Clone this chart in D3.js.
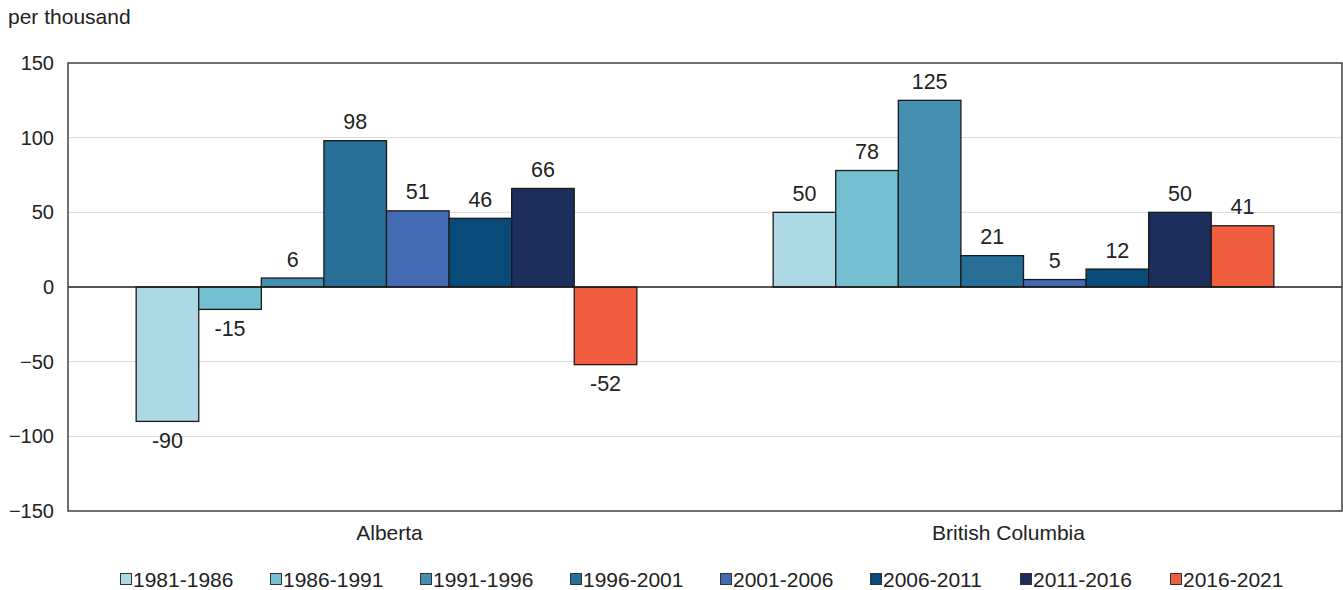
<!DOCTYPE html>
<html>
<head>
<meta charset="utf-8">
<script src="https://cdn.jsdelivr.net/npm/d3@7"></script>
<style>
  html, body { margin: 0; padding: 0; background: #fff; }
  svg { display: block; font-family: "Liberation Sans", Arial, sans-serif; }
</style>
</head>
<body>
<svg id="chart" width="1343" height="590"></svg>
<script>
// Net migration rate per thousand, by province and five-year period
const provinces = ["Alberta", "British Columbia"];
const periods = ["1981-1986", "1986-1991", "1991-1996", "1996-2001",
                 "2001-2006", "2006-2011", "2011-2016", "2016-2021"];
const albertaValues = [-90, -15, 6, 98, 51, 46, 66, -52];
const bcValues = [50, 78, 125, 21, 5, 12, 50, 41];
const periodColors = ["#add8e6", "#74c0d0", "#4590b0", "#276f96",
                      "#426bb4", "#084a7a", "#1c2f5c", "#f15e3f"];
const yTicks = [-150, -100, -50, 0, 50, 100, 150];

const seriesByProvince = [albertaValues, bcValues];

const svg = d3.select("#chart");
const margin = { left: 68, right: 1, top: 63, bottom: 79 };
const W = 1343, H = 590;
const plotW = W - margin.left - margin.right;
const plotH = H - margin.top - margin.bottom;

const x0 = d3.scaleBand().domain(provinces).range([0, plotW]).paddingInner(0.214).paddingOuter(0.107);
const x1 = d3.scaleBand().domain(periods).range([0, x0.bandwidth()]).padding(0);
const y = d3.scaleLinear().domain([-150, 150]).range([plotH, 0]);
const color = d3.scaleOrdinal().domain(periods).range(periodColors);

const g = svg.append("g").attr("transform", `translate(${margin.left},${margin.top})`);

// gridlines
g.append("g")
  .selectAll("line")
  .data(yTicks.filter(t => t !== 0 && Math.abs(t) !== 150))
  .join("line")
  .attr("x1", 0).attr("x2", plotW)
  .attr("y1", d => y(d)).attr("y2", d => y(d))
  .attr("stroke", "#d9d9d9").attr("stroke-width", 1);

// y axis labels
const yAxis = d3.axisLeft(y).tickValues(yTicks).tickSize(0).tickPadding(14);
g.append("g").call(yAxis)
  .call(s => s.select(".domain").remove())
  .call(s => s.selectAll("text")
    .attr("font-size", 20).attr("fill", "#222")
    .attr("font-family", "Liberation Sans, Arial, sans-serif"));

// bars
const groups = g.append("g").selectAll("g")
  .data(provinces.map((p, i) => ({ p, vals: seriesByProvince[i] })))
  .join("g")
  .attr("transform", d => `translate(${x0(d.p)},0)`);

groups.selectAll("rect")
  .data(d => d.vals.map((v, j) => ({ period: periods[j], v })))
  .join("rect")
  .attr("x", d => x1(d.period))
  .attr("width", x1.bandwidth())
  .attr("y", d => y(Math.max(0, d.v)))
  .attr("height", d => Math.abs(y(d.v) - y(0)))
  .attr("fill", d => color(d.period))
  .attr("stroke", "#1a1a1a").attr("stroke-width", 1.3);

groups.selectAll("text")
  .data(d => d.vals.map((v, j) => ({ period: periods[j], v })))
  .join("text")
  .attr("x", d => x1(d.period) + x1.bandwidth() / 2)
  .attr("y", d => d.v >= 0 ? y(d.v) - 11.5 : y(d.v) + 26.5)
  .attr("text-anchor", "middle")
  .attr("font-size", 21.5).attr("fill", "#222")
  .text(d => d.v);

// zero line
g.append("line")
  .attr("x1", 0).attr("x2", plotW)
  .attr("y1", y(0)).attr("y2", y(0))
  .attr("stroke", "#1a1a1a").attr("stroke-width", 1.3);

// frame
g.append("rect")
  .attr("x", 0).attr("y", 0).attr("width", plotW).attr("height", plotH)
  .attr("fill", "none").attr("stroke", "#404040").attr("stroke-width", 1.5);

// category labels (slightly nudged toward the chart centre)
const labelNudge = [3, -15];
g.append("g").selectAll("text")
  .data(provinces)
  .join("text")
  .attr("x", (d, i) => x0(d) + x0.bandwidth() / 2 + labelNudge[i])
  .attr("y", plotH + 29)
  .attr("text-anchor", "middle")
  .attr("font-size", 21).attr("fill", "#222")
  .text(d => d);

// unit label
svg.append("text")
  .attr("x", 8).attr("y", 24)
  .attr("font-size", 21).attr("fill", "#222")
  .text("per thousand");

// legend
const legend = svg.append("g").attr("transform", "translate(120,579)");
const items = legend.selectAll("g")
  .data(periods)
  .join("g")
  .attr("transform", (d, i) => `translate(${i * 150},0)`);
items.append("rect")
  .attr("x", 0.5).attr("y", -5.5).attr("width", 11).attr("height", 11)
  .attr("fill", d => color(d))
  .attr("stroke", "#333").attr("stroke-width", 1);
items.append("text")
  .attr("x", 13).attr("y", 7.5)
  .attr("font-size", 21).attr("fill", "#222")
  .text(d => d);
</script>
</body>
</html>
